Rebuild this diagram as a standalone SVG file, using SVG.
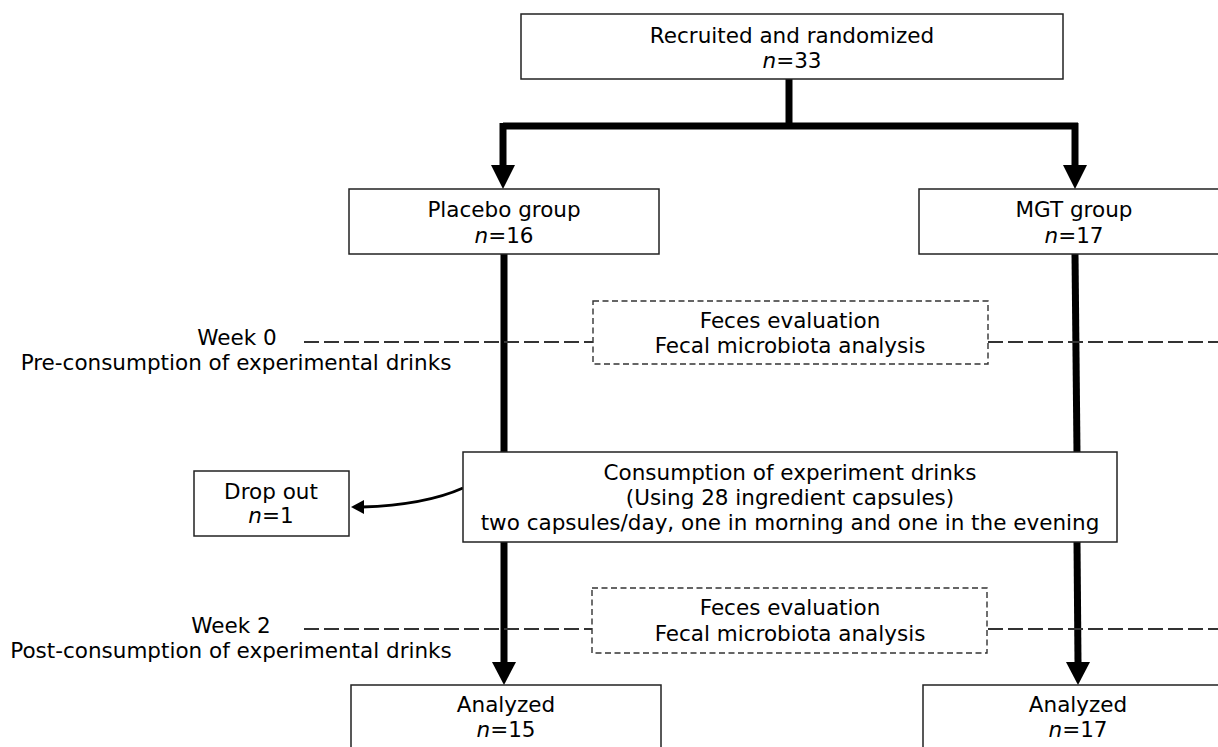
<svg xmlns="http://www.w3.org/2000/svg" width="1218" height="747" viewBox="0 0 1218 747">
<defs>
<style>
text{font-family:"DejaVu Sans",Verdana,sans-serif;font-size:21.5px;fill:#000;text-anchor:middle}
.i{font-style:italic}
.box{fill:#fff;stroke:#222;stroke-width:1.5}
.dbox{fill:#fff;stroke:#333;stroke-width:1.4;stroke-dasharray:6 3.5}
.thick{stroke:#000;stroke-width:7;fill:none}
.dash{stroke:#333;stroke-width:2;stroke-dasharray:15 5;fill:none}
.head{fill:#000}
</style>
</defs>
<rect width="1218" height="747" fill="#fff"/>
<g id="connectors">
<path class="thick" d="M789,79 V126"/>
<path class="thick" d="M503,126 H1078"/>
<path class="thick" d="M503,123 V166"/>
<polygon class="head" points="491,165 515,165 503,189"/>
<path class="thick" d="M1075,123 V166"/>
<polygon class="head" points="1063,165 1087,165 1075,189"/>
<path class="thick" d="M504,254 V453"/>
<path class="thick" d="M504,542 V663"/>
<polygon class="head" points="492,662 516,662 504,685"/>
<path class="thick" d="M1075,254 L1077,453"/>
<path class="thick" d="M1077,542 L1078,663"/>
<polygon class="head" points="1066,662 1090,662 1078,685"/>
<path class="dash" d="M304,342 H593"/>
<path class="dash" d="M988,342 H1218"/>
<path class="dash" d="M304,629 H593"/>
<path class="dash" d="M988,629 H1218"/>
<path d="M463,488 Q425,505 362,507" stroke="#000" stroke-width="3" fill="none"/>
<polygon class="head" points="351,507 364,500 364,514"/>
</g>
<g id="recruited">
<rect class="box" x="521" y="14" width="542" height="65"/>
<text x="792" y="43">Recruited and randomized</text>
<text x="792" y="68"><tspan class="i">n</tspan>=33</text>
</g>
<g id="placebo">
<rect class="box" x="349" y="189" width="310" height="65"/>
<text x="504" y="217">Placebo group</text>
<text x="504" y="243"><tspan class="i">n</tspan>=16</text>
</g>
<g id="mgt">
<rect class="box" x="919" y="189" width="312" height="65"/>
<text x="1074" y="217">MGT group</text>
<text x="1074" y="243"><tspan class="i">n</tspan>=17</text>
</g>
<g id="week0">
<text x="237" y="345">Week 0</text>
<text x="236" y="370">Pre-consumption of experimental drinks</text>
</g>
<g id="feces0">
<rect class="dbox" x="593" y="301" width="395" height="63"/>
<text x="790" y="328">Feces evaluation</text>
<text x="790" y="353">Fecal microbiota analysis</text>
</g>
<g id="consumption">
<rect class="box" x="463" y="452" width="654" height="90"/>
<text x="790" y="480">Consumption of experiment drinks</text>
<text x="790" y="505">(Using 28 ingredient capsules)</text>
<text x="790" y="530">two capsules/day, one in morning and one in the evening</text>
</g>
<g id="dropout">
<rect class="box" x="194" y="471" width="155" height="65"/>
<text x="271" y="499">Drop out</text>
<text x="271" y="523"><tspan class="i">n</tspan>=1</text>
</g>
<g id="week2">
<text x="231" y="633">Week 2</text>
<text x="231" y="658">Post-consumption of experimental drinks</text>
</g>
<g id="feces2">
<rect class="dbox" x="592" y="588" width="395" height="65"/>
<text x="790" y="615">Feces evaluation</text>
<text x="790" y="641">Fecal microbiota analysis</text>
</g>
<g id="analyzed1">
<rect class="box" x="351" y="685" width="310" height="80"/>
<text x="506" y="712">Analyzed</text>
<text x="506" y="737"><tspan class="i">n</tspan>=15</text>
</g>
<g id="analyzed2">
<rect class="box" x="923" y="685" width="310" height="80"/>
<text x="1078" y="712">Analyzed</text>
<text x="1078" y="737"><tspan class="i">n</tspan>=17</text>
</g>
</svg>
